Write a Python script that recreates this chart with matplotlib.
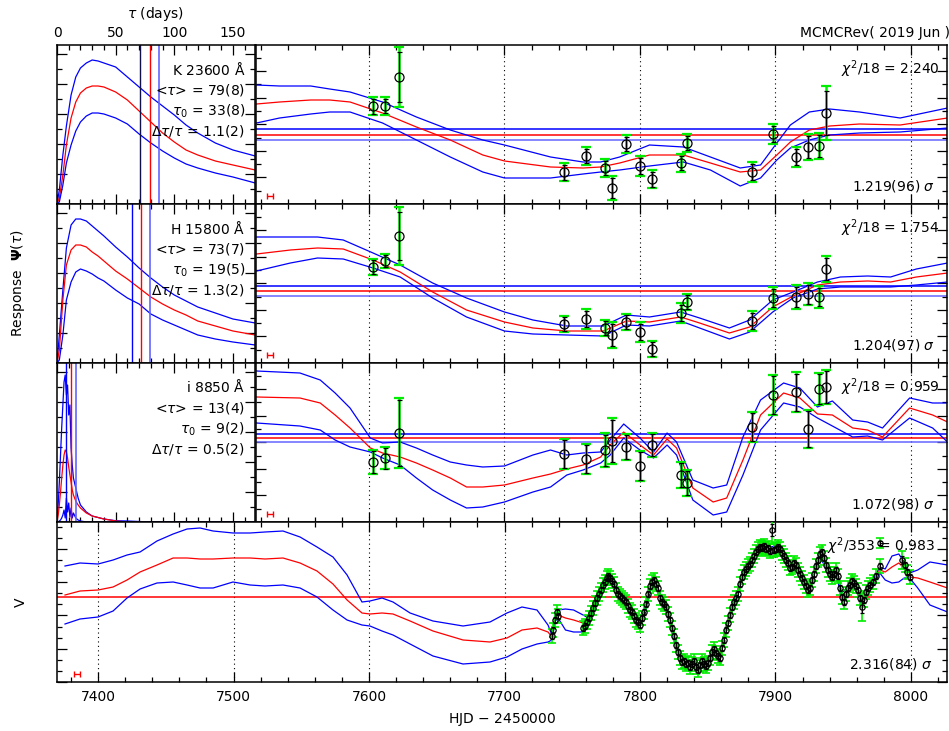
import numpy as np
import matplotlib
matplotlib.use('Agg')
import matplotlib.pyplot as plt
from matplotlib.ticker import MultipleLocator

plt.rcParams['font.family'] = ['DejaVu Sans']
plt.rcParams['mathtext.fontset'] = 'dejavusans'
plt.rcParams['font.size'] = 10

BLUE = '#0000ff'
LBLUE = '#6464ff'
RED = '#ff0000'
GREEN = '#00ee00'

# ---------------- response functions  Psi(tau), tau in days (arbitrary flux units)
tau_days = [0, 2, 5, 8, 12, 16, 20, 25, 30, 35, 40, 50, 60, 70, 80, 90, 100, 110, 120, 135, 150, 169]
k_psi_hi = [0, 14, 49, 78, 109, 127, 136, 141, 144, 143, 141, 137, 127, 117, 107, 98, 89, 79, 71, 61, 54, 48]
k_psi_mid = [0, 6, 29, 59, 86, 102, 111, 116, 118, 118, 117, 112, 104, 93, 82, 71, 62, 54, 49, 43, 39, 34]
k_psi_lo = [0, 2, 19, 41, 59, 73, 82, 88, 91, 91, 90, 86, 80, 70, 61, 53, 46, 40, 36, 31, 27, 21]
h_psi_hi = [0, 28, 73, 115, 138, 144, 144, 142, 137, 132, 127, 116, 106, 95, 85, 76, 68, 62, 56, 50, 44, 40]
h_psi_mid = [0, 13, 63, 98, 113, 118, 118, 116, 111, 107, 102, 92, 84, 75, 66, 59, 53, 48, 42, 37, 32, 28]
h_psi_lo = [0, 3, 28, 63, 81, 91, 94, 92, 89, 85, 82, 73, 65, 59, 49, 43, 38, 33, 28, 24, 21, 18]

tau_i = [0, 1, 2, 3, 4, 5, 6, 7, 8, 9, 10, 11, 12, 13, 14, 16, 18, 20, 25, 30, 40, 50, 60, 80, 100, 169]
i_psi_hi = [0, 17, 40, 67, 94, 117, 140, 147, 127, 137, 107, 117, 74, 57, 44, 34, 24, 17, 10, 6, 3, 1.3, 1, 0, 0, 0]
i_psi_mid = [0, 7, 17, 30, 44, 57, 67, 72, 70, 64, 55, 47, 40, 32, 27, 21, 17, 14, 9, 6, 3, 1, 0, 0, 0, 0]
i_psi_lo = [0, 0, 1, 2, 4, 7, 12, 4, 24, 10, 19, 5, 14, 4, 9, 4, 2, 1, 0, 0, 0, 0, 0, 0, 0, 0]

# <tau> and +-1 sigma (days)
k_tau_lines = [71, 79, 87]
h_tau_lines = [64, 72, 79]
i_tau_lines = [7.5, 12, 16.5]
# colour of the lower <tau> line differs in the K panel
k_low_color = '#10104a'

k_labels = [r'K 23600 $\mathrm{\AA}$', r'<$\tau$> = 79(8)', r'$\tau_0$ = 33(8)', r'$\Delta\tau/\tau$ = 1.1(2)']
h_labels = [r'H 15800 $\mathrm{\AA}$', r'<$\tau$> = 73(7)', r'$\tau_0$ = 19(5)', r'$\Delta\tau/\tau$ = 1.3(2)']
i_labels = [r'i 8850 $\mathrm{\AA}$', r'<$\tau$> = 13(4)', r'$\tau_0$ = 9(2)', r'$\Delta\tau/\tau$ = 0.5(2)']

# ---------------- observed light curves (HJD - 2450000)
t_obs = [7603, 7612, 7622, 7744, 7760, 7774, 7779, 7790, 7800, 7809,
         7830, 7835, 7883, 7898, 7915, 7924, 7932, 7937]
k_flux = [98, 98, 127, 32, 48, 36, 16, 60, 38, 25, 41, 61, 32, 70, 47, 57, 58, 91]
k_err = [7.5, 7, 25, 7.5, 7, 7, 10, 7, 8, 7.5, 7, 7, 8, 8, 8, 11, 11, 22]
h_flux = [96, 102, 127, 39, 44, 35, 28, 41, 31, 14, 50, 61, 42, 65, 66, 69, 66, 94]
h_err = [7, 6, 24, 7, 8, 7, 11, 7, 8, 7, 8, 7, 8, 9, 10, 9.5, 9, 11]
i_flux = [60, 64, 89, 68, 63, 72, 81, 75, 56, 77, 47, 39, 95, 127, 130, 93, 133, 135]
i_err = [11, 10.5, 33, 14, 14, 15.5, 21, 12, 14, 11, 12, 12, 14, 19, 18.5, 18, 15, 16]

# error scale factors and fit quality
k_sig, h_sig, i_sig, v_sig = 1.219, 1.204, 1.072, 2.316
k_fit = [r'$\chi^2$/18 = 2.240', r'1.219(96) $\sigma$']
h_fit = [r'$\chi^2$/18 = 1.754', r'1.204(97) $\sigma$']
i_fit = [r'$\chi^2$/18 = 0.959', r'1.072(98) $\sigma$']
v_fit = [r'$\chi^2$/353 = 0.983', r'2.316(84) $\sigma$']

# mean level and +-1 sigma
k_mean = [75, 69, 64]
h_mean = [77, 72, 67]
i_mean = [88, 84, 80]
v_mean = 85

# ---------------- model light curves (mean and envelope)
t_mod_k = [7517, 7534, 7557, 7571, 7586, 7610, 7635, 7660, 7684, 7700, 7734, 7758, 7771,
           7785, 7807, 7832, 7852, 7874, 7889, 7901, 7911, 7925, 7940, 7962, 7992, 8027]
k_mod_hi = [119, 118, 118, 115, 112, 102, 87, 74, 64, 59, 47, 42, 42,
            47, 59, 57, 47, 36, 39, 61, 79, 92, 95, 92, 86, 96]
k_mod_mid = [100, 102, 104, 104, 102, 91, 77, 64, 49, 43, 37, 36, 37,
             41, 49, 49, 41, 32, 34, 49, 62, 74, 78, 80, 79, 86]
k_mod_lo = [81, 86, 90, 92, 92, 81, 64, 47, 32, 26, 26, 30, 32,
            34, 38, 42, 34, 18, 26, 44, 56, 64, 69, 71, 72, 76]

t_mod_h = [7517, 7542, 7562, 7581, 7603, 7623, 7647, 7672, 7700, 7721, 7746, 7773, 7790,
           7807, 7830, 7844, 7866, 7881, 7898, 7913, 7931, 7948, 7968, 7985, 8004, 8027]
h_mod_hi = [126, 126, 126, 123, 110, 98, 80, 65, 51, 43, 37, 37, 48,
            46, 51, 45, 35, 43, 63, 71, 81, 86, 87, 86, 94, 100]
h_mod_mid = [109, 113, 115, 114, 103, 91, 71, 53, 41, 35, 32, 32, 42,
             41, 46, 40, 30, 36, 56, 67, 78, 81, 82, 81, 86, 90]
h_mod_lo = [92, 100, 105, 104, 95, 86, 65, 46, 32, 29, 28, 27, 38,
            37, 42, 35, 24, 31, 51, 65, 74, 76, 76, 76, 78, 81]

t_mod_i = [7517, 7549, 7564, 7575, 7586, 7601, 7610, 7623, 7635, 7647,
           7660, 7672, 7684, 7700, 7721, 7734, 7746, 7758, 7771, 7778,
           7788, 7800, 7810, 7820, 7827, 7839, 7854, 7864, 7876, 7889,
           7906, 7918, 7931, 7942, 7957, 7968, 7979, 7999, 8016, 8027]
i_mod_hi = [151, 149, 142, 129, 114, 84, 79, 80, 74, 67,
            60, 57, 55, 56, 67, 72, 67, 69, 70, 82,
            98, 84, 70, 89, 80, 42, 34, 37, 85, 122,
            139, 134, 115, 121, 102, 100, 94, 124, 119, 119]
i_mod_mid = [125, 124, 119, 107, 94, 74, 69, 65, 59, 52,
             44, 35, 35, 37, 44, 48, 53, 57, 65, 77,
             90, 77, 67, 83, 74, 34, 20, 24, 62, 107,
             129, 124, 108, 107, 94, 92, 85, 114, 107, 100]
i_mod_lo = [99, 96, 92, 82, 75, 70, 64, 57, 44, 32,
            22, 14, 15, 20, 30, 35, 47, 52, 59, 67,
            84, 72, 64, 77, 67, 22, 7, 10, 47, 92,
            119, 115, 104, 96, 85, 86, 82, 104, 94, 80]

# ---------------- V band driving light curve
v_t = [7735.1, 7735.8, 7737.3, 7738.7, 7739.5, 7757.9, 7759.4, 7760.9, 7762.4, 7763.8,
       7765.3, 7766.8, 7768.3, 7769.7, 7771.2, 7772.7, 7774.2, 7775.6, 7776.4, 7777.9,
       7779.3, 7780.8, 7782.3, 7783.8, 7785.2, 7786.7, 7788.2, 7789.7, 7791.1, 7792.6,
       7794.1, 7795.6, 7797.0, 7798.5, 7800.0, 7801.5, 7803.0, 7804.4, 7805.9, 7807.4,
       7808.9, 7810.3, 7811.8, 7813.3, 7814.8, 7816.2, 7817.7, 7819.2, 7820.7, 7822.1,
       7823.6, 7825.1, 7826.6, 7828.0, 7829.5, 7831.0, 7832.5, 7834.0, 7835.4, 7836.9,
       7838.4, 7839.9, 7841.3, 7842.8, 7844.3, 7845.8, 7847.2, 7848.7, 7850.2, 7851.7,
       7853.1, 7854.6, 7856.1, 7857.6, 7859.0, 7860.5, 7862.0, 7863.5, 7864.9, 7866.4,
       7867.9, 7869.4, 7870.8, 7872.3, 7873.8, 7875.3, 7876.8, 7878.2, 7879.7, 7881.2,
       7882.7, 7884.1, 7885.6, 7887.1, 7888.6, 7890.0, 7891.5, 7893.0, 7894.5, 7895.9,
       7897.4, 7898.9, 7900.4, 7901.8, 7903.3, 7904.8, 7906.3, 7907.7, 7909.2, 7910.7,
       7912.2, 7913.7, 7915.1, 7916.6, 7918.1, 7919.6, 7921.0, 7922.5, 7924.0, 7925.5,
       7926.9, 7928.4, 7929.9, 7931.4, 7932.8, 7934.3, 7935.8, 7937.3, 7938.7, 7940.2,
       7941.7, 7943.2, 7944.6, 7946.1, 7947.6, 7949.1, 7950.6, 7952.0, 7953.5, 7955.0,
       7956.5, 7957.9, 7959.4, 7960.9, 7962.4, 7963.8, 7965.3, 7966.8, 7968.3, 7969.7,
       7972.0, 7974.2, 7977.1, 7977.5, 7993.4, 7995.6, 7997.0, 7999.3]
v_flux = [46, 52, 62, 70, 66, 54, 56, 60, 64, 69,
          74, 79, 84, 88, 92, 97, 100, 104, 106, 104,
          101, 98, 92, 88, 86, 84, 82, 80, 76, 72,
          70, 66, 62, 60, 57, 64, 70, 78, 88, 96,
          100, 102, 98, 94, 84, 80, 78, 75, 68, 62,
          54, 46, 37, 30, 24, 20, 21, 18, 19, 15,
          18, 21, 15, 12, 17, 21, 18, 16, 19, 24,
          30, 33, 29, 26, 24, 34, 42, 52, 59, 67,
          75, 80, 84, 88, 98, 105, 110, 113, 116, 118,
          122, 126, 130, 133, 135, 134, 136, 133, 134, 131,
          152, 132, 133, 135, 133, 129, 126, 122, 119, 114,
          115, 119, 117, 112, 108, 104, 100, 96, 92, 94,
          102, 108, 116, 122, 128, 130, 124, 117, 112, 108,
          105, 108, 112, 106, 94, 85, 80, 88, 94, 97,
          101, 99, 96, 92, 84, 75, 82, 90, 94, 97,
          100, 106, 116, 139, 122, 117, 110, 105]
v_err_typical = 3.0
v_err_special = {7897.4: 6.0, 7963.8: 6.0, 7977.5: 2.0, 7993.4: 4.0}

t_mod_v = [7375.6, 7386.7, 7400, 7411.1, 7421.4, 7431, 7443.5, 7455.4, 7465.7, 7475.3,
           7484.9, 7499.6, 7512.2, 7523.2, 7536.5, 7549.1, 7561.6, 7573.4, 7583.8, 7594.8,
           7600.7, 7609.6, 7617.7, 7630.3, 7647.2, 7669.4, 7689.3, 7701.8, 7712.9, 7724,
           7732.1, 7735,
           7737.5, 7739.5, 7745, 7751, 7758, 7762, 7766, 7771, 7775, 7778,
           7782, 7787, 7792, 7797, 7800, 7804, 7808, 7811, 7815, 7819,
           7823, 7827, 7831, 7835, 7839, 7843, 7847, 7851, 7855, 7859,
           7863, 7867, 7871, 7875, 7879, 7884, 7889, 7893, 7897, 7901,
           7905, 7909, 7913, 7917, 7921, 7925, 7929, 7933, 7937, 7941,
           7945, 7949, 7953, 7957, 7961, 7964, 7968, 7972, 7977, 7981,
           7986, 7991, 7995, 7999, 8005, 8014, 8027]
v_mod_hi = [116, 119, 118, 122, 127, 130, 141, 148, 153, 154,
            151, 149, 149, 150, 151, 145, 135, 125, 107, 80,
            81, 84, 80, 69, 61, 56, 60, 69, 75, 72,
            57, 47,
            67, 72, 73, 72, 67, 64, 79, 94, 105, 107,
            97, 87, 76, 66, 62, 75, 98, 103, 88, 78,
            59, 38, 25, 22, 22, 18, 21, 26, 34, 29,
            53, 73, 87, 107, 118, 128, 137, 137, 135, 137,
            131, 122, 119, 115, 103, 95, 115, 130, 121, 109,
            113, 89, 95, 103, 93, 81, 95, 102, 115, 113,
            126, 128, 120, 109, 112, 120, 117]
v_mod_mid = [87, 91, 92, 95, 102, 110, 117, 124, 124, 123,
             123, 124, 124, 123, 124, 119, 111, 98, 82, 69,
             68, 69, 68, 61, 51, 42, 40, 44, 52, 54,
             50, 45,
             64, 67, 64, 62, 59, 61, 76, 91, 102, 104,
             94, 84, 73, 63, 59, 72, 95, 100, 85, 75,
             56, 35, 22, 19, 19, 15, 18, 23, 31, 26,
             50, 70, 84, 104, 115, 125, 134, 134, 132, 134,
             128, 119, 116, 112, 100, 92, 112, 127, 118, 106,
             110, 86, 92, 100, 90, 78, 92, 99, 112, 110,
             115, 119, 114, 105, 104, 100, 94]
v_mod_lo = [58, 63, 65, 71, 84, 93, 99, 100, 97, 94,
            94, 100, 97, 96, 97, 94, 85, 72, 62, 57,
            56, 51, 47, 38, 26, 18, 20, 25, 33, 38,
            40, 42,
            61, 64, 52, 50, 50, 58, 73, 88, 99, 101,
            91, 81, 70, 60, 56, 69, 92, 97, 82, 72,
            53, 32, 19, 16, 16, 12, 15, 20, 28, 23,
            47, 67, 81, 101, 112, 122, 131, 131, 129, 131,
            125, 116, 113, 109, 97, 89, 109, 124, 115, 103,
            107, 83, 89, 97, 87, 75, 89, 96, 109, 102,
            99, 100, 104, 104, 94, 77, 70]

# small red bar in the lower left of each light-curve panel
bar_t_top = 7527
bar_t_v = 7384.5
bar_halfwidth = 2.5

FIG_W, FIG_H = 949, 731


def px_box(x0, y0, x1, y1):
    # axes rectangle from pixel edges (top-left origin)
    return [x0 / FIG_W, 1 - y1 / FIG_H, (x1 - x0) / FIG_W, (y1 - y0) / FIG_H]


def style_axes(ax, xmaj, xmin, ymaj, ymin):
    ax.xaxis.set_major_locator(MultipleLocator(xmaj))
    ax.xaxis.set_minor_locator(MultipleLocator(xmin))
    ax.yaxis.set_major_locator(MultipleLocator(ymaj))
    ax.yaxis.set_minor_locator(MultipleLocator(ymin))
    ax.tick_params(which='both', direction='in', top=True, bottom=True,
                   left=True, right=True, labelbottom=False, labelleft=False)
    ax.tick_params(which='major', length=7, width=0.9)
    ax.tick_params(which='minor', length=3.5, width=0.9)
    for s in ax.spines.values():
        s.set_linewidth(1.1)


def response_panel(ax, tau, hi, mid, lo, lines, labels, low_color=BLUE):
    ax.plot(tau, hi, color=BLUE, lw=0.9)
    ax.plot(tau, mid, color=RED, lw=0.9)
    ax.plot(tau, lo, color=BLUE, lw=0.9)
    ax.axvline(lines[0], color=low_color, lw=1.0)
    ax.axvline(lines[1], color=RED, lw=1.0)
    ax.axvline(lines[2], color=LBLUE, lw=1.2)
    ax.set_xlim(0, 168.8)
    ax.set_ylim(0, 159)
    style_axes(ax, 50, 10, 30, 15)
    for off, s in zip([24, 45, 66, 86], labels):
        ax.text(0.95, 1 - off / 159, s, transform=ax.transAxes, ha='right', va='center')


def light_panel(ax, tm, hi, mid, lo, flux, err, sig, mean, fit):
    for y, c in zip(mean, [BLUE, RED, LBLUE]):
        ax.axhline(y, color=c, lw=1.1)
    ax.plot(tm, hi, color=BLUE, lw=0.9)
    ax.plot(tm, mid, color=RED, lw=0.9)
    ax.plot(tm, lo, color=BLUE, lw=0.9)
    err = np.array(err)
    ax.errorbar(t_obs, flux, yerr=err * sig, fmt='none', ecolor=GREEN,
                elinewidth=1.8, capsize=3.3, capthick=1.6, zorder=3)
    ax.errorbar(t_obs, flux, yerr=err, fmt='o', mfc='none', mec='k', ms=6.5, mew=0.9,
                ecolor='k', elinewidth=0.9, capsize=1.8, capthick=0.9, zorder=4)
    ax.errorbar([bar_t_top], [8], xerr=bar_halfwidth, fmt='none', ecolor=RED,
                elinewidth=1.0, capsize=2, capthick=1.0)
    for x in [7600, 7700, 7800, 7900, 8000]:
        ax.axvline(x, color='k', ls=(0, (1, 3)), lw=0.8, zorder=1)
    ax.set_xlim(7516.6, 8026.6)
    ax.set_ylim(0, 159)
    style_axes(ax, 100, 20, 26.6, 13.3)
    ax.text(0.99, 1 - 24 / 159, fit[0], transform=ax.transAxes, ha='right', va='center')
    ax.text(0.983, 0.113, fit[1], transform=ax.transAxes, ha='right', va='center')


fig = plt.figure(figsize=(FIG_W / 100, FIG_H / 100), dpi=100)

rows = [(45, 204), (204, 363), (363, 522)]
left_data = [(tau_days, k_psi_hi, k_psi_mid, k_psi_lo, k_tau_lines, k_labels, k_low_color),
             (tau_days, h_psi_hi, h_psi_mid, h_psi_lo, h_tau_lines, h_labels),
             (tau_i, i_psi_hi, i_psi_mid, i_psi_lo, i_tau_lines, i_labels)]
right_data = [(t_mod_k, k_mod_hi, k_mod_mid, k_mod_lo, k_flux, k_err, k_sig, k_mean, k_fit),
              (t_mod_h, h_mod_hi, h_mod_mid, h_mod_lo, h_flux, h_err, h_sig, h_mean, h_fit),
              (t_mod_i, i_mod_hi, i_mod_mid, i_mod_lo, i_flux, i_err, i_sig, i_mean, i_fit)]

for n, ((top, bot), ld, rd) in enumerate(zip(rows, left_data, right_data)):
    axl = fig.add_axes(px_box(57, top, 255, bot))
    response_panel(axl, *ld)
    if n == 0:
        axl.tick_params(labeltop=True)
        axl.set_xticks([0, 50, 100, 150])
        axl.set_xlabel(r'$\tau$ (days)', labelpad=6)
        axl.xaxis.set_label_position('top')
    axr = fig.add_axes(px_box(256, top, 947, bot))
    light_panel(axr, *rd)

# ---- bottom V panel
axv = fig.add_axes(px_box(57, 522, 947, 682))
axv.axhline(v_mean, color=RED, lw=1.1)
axv.plot(t_mod_v, v_mod_hi, color=BLUE, lw=0.9)
axv.plot(t_mod_v, v_mod_mid, color=RED, lw=0.9)
axv.plot(t_mod_v, v_mod_lo, color=BLUE, lw=0.9)
v_err = np.array([v_err_special.get(t, v_err_typical) for t in v_t])
axv.errorbar(v_t, v_flux, yerr=v_err * v_sig, fmt='none', ecolor=GREEN,
             elinewidth=1.2, capsize=3.2, capthick=1.2, zorder=3)
axv.errorbar(v_t, v_flux, yerr=v_err, fmt='o', mfc='none', mec='k', ms=3.8, mew=0.9,
             ecolor='k', elinewidth=0.8, capsize=1.2, capthick=0.8, zorder=4)
axv.errorbar([bar_t_v], [8], xerr=bar_halfwidth, fmt='none', ecolor=RED,
             elinewidth=1.0, capsize=2, capthick=1.0)
for x in [7400, 7500, 7600, 7700, 7800, 7900, 8000]:
    axv.axvline(x, color='k', ls=(0, (1, 3)), lw=0.8, zorder=1)
axv.set_xlim(7369.7, 8026.6)
axv.set_ylim(0, 160)
style_axes(axv, 100, 20, 33.3, 11.1)
axv.tick_params(labelbottom=True, pad=6)
axv.text(0.9865, 1 - 24 / 160, v_fit[0], transform=axv.transAxes, ha='right', va='center')
axv.text(0.984, 1 - 142 / 160, v_fit[1], transform=axv.transAxes, ha='right', va='center')

fig.text(800 / FIG_W, 1 - 33 / FIG_H, 'MCMCRev( 2019 Jun )', ha='left', va='center')
fig.text(18 / FIG_W, 1 - 283 / FIG_H, r'Response  $\mathbf{\Psi}(\tau)$', rotation=90,
         ha='center', va='center')
fig.text(21 / FIG_W, 1 - 602 / FIG_H, 'V', rotation=90, ha='center', va='center')
fig.text(502 / FIG_W, 1 - 720 / FIG_H, 'HJD $-$ 2450000', ha='center', va='center')

fig.savefig('out.png', dpi=100)
